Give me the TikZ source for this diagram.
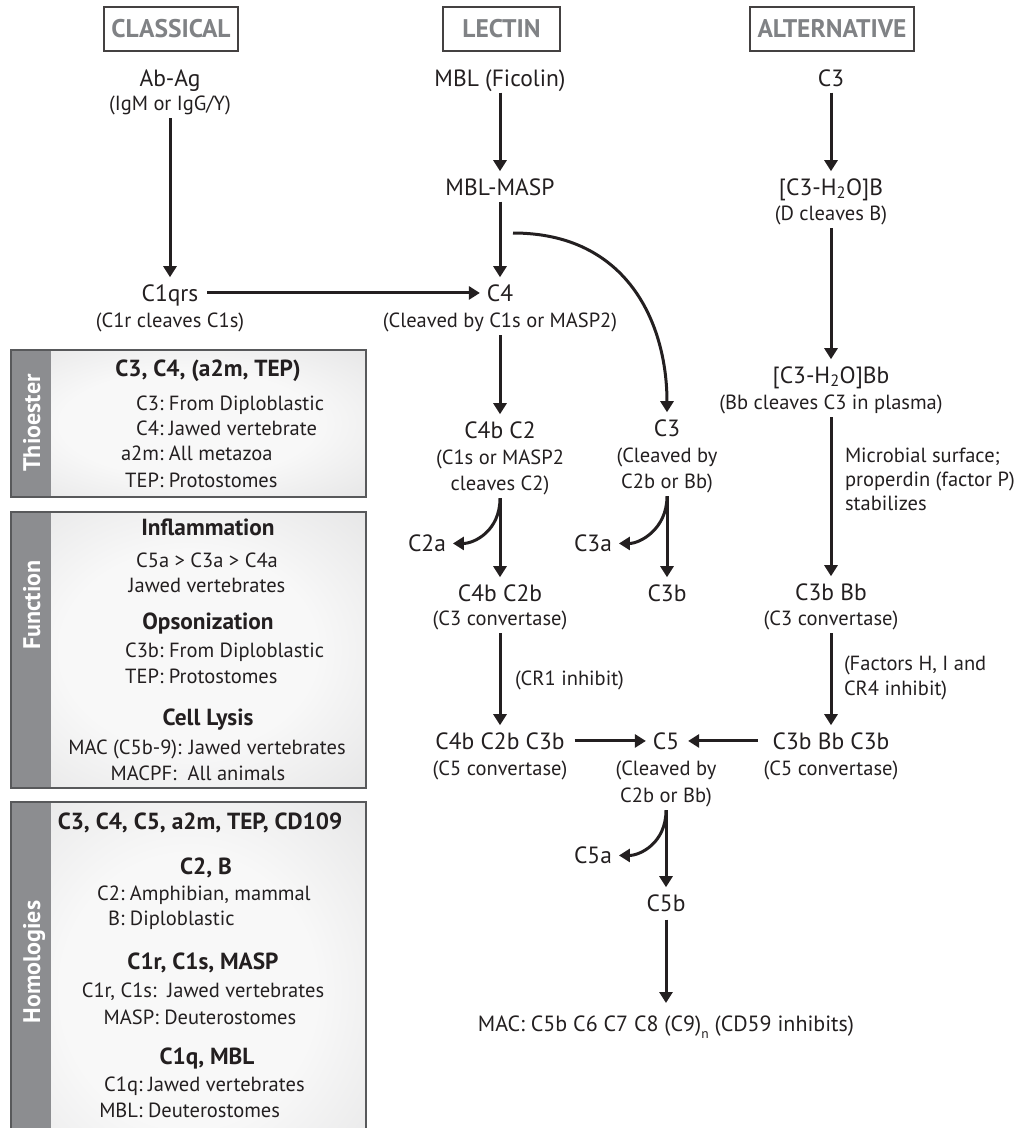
\documentclass[tikz,border=0pt]{standalone}
\usepackage{fontspec}
\setmainfont{PT Sans}
\usetikzlibrary{arrows.meta}
\definecolor{ink}{HTML}{231F20}
\definecolor{hdrgray}{HTML}{808285}
\definecolor{stripc}{HTML}{8C8D90}
\definecolor{pborder}{HTML}{58595B}
\definecolor{plight}{HTML}{F8F8F8}
\definecolor{pdark}{HTML}{D8D8D9}
\pgfdeclareradialshading{panelshade}{\pgfpoint{0bp}{0bp}}{color(0bp)=(plight); color(18bp)=(plight); color(50bp)=(pdark); color(72bp)=(pdark)}
\begin{document}
\begin{tikzpicture}[x=1pt,y=-1pt,
  every node/.style={inner sep=0pt,outer sep=0pt,text=ink},
  mainlab/.style={font=\fontsize{23.5}{27}\selectfont,anchor=base,text height=17pt,text depth=5.5pt},
  sublab/.style={font=\fontsize{20.5}{24}\selectfont,anchor=base,text height=15pt,text depth=5pt},
  sidenote/.style={font=\fontsize{20.5}{24}\selectfont,anchor=base west},
  hdr/.style={draw=ink!85,line width=1.3pt,font=\bfseries\fontsize{25.5}{28}\selectfont,text=hdrgray,minimum height=44pt},
  phead/.style={font=\bfseries\fontsize{23.3}{26}\selectfont,anchor=base},
  ptxt/.style={font=\fontsize{20.5}{24}\selectfont,anchor=base},
  ptxtw/.style={font=\fontsize{20.5}{24}\selectfont,anchor=base west},
  side/.style={font=\bfseries\fontsize{24}{28}\selectfont,text=white,rotate=90,anchor=base},
  arr/.style={draw=ink,line width=3pt,-{Triangle[width=13pt,length=11pt]},shorten <=3pt,shorten >=7pt}
]
\useasboundingbox (0,0) rectangle (1022,1128);

% ---------- headers
\node[hdr,minimum width=134pt] (hdrC) at (171,29) {CLASSICAL};
\node[hdr,minimum width=117pt] (hdrL) at (501.5,29) {LECTIN};
\node[hdr,minimum width=164pt] (hdrA) at (832,29) {ALTERNATIVE};

% ---------- classical
\node[mainlab] (abag) at (170,86.2) {Ab-Ag};
\node[sublab] (abags) at (170,110.2) {(IgM or IgG/Y)};
\node[mainlab] (c1qrs) at (170,301.2) {C1qrs};
\node[sublab] (c1qrss) at (170,327.2) {(C1r cleaves C1s)};

% ---------- lectin
\node[mainlab] (mbl) at (500,86.2) {MBL (Ficolin)};
\node[mainlab] (mblmasp) at (500,195.2) {MBL-MASP};
\node[mainlab] (c4) at (500,301.2) {C4};
\node[sublab] (c4s) at (500,327.2) {(Cleaved by C1s or MASP2)};
\node[mainlab] (c4b2) at (500,438.2) {C4b C2};
\node[sublab] (c4b2sa) at (500,464.2) {(C1s or MASP2};
\node[sublab] (c4b2sb) at (500,490.2) {cleaves C2)};
\node[mainlab] (c2a) at (427,551.2) {C2a};
\node[mainlab] (c4b2b) at (500,601.2) {C4b C2b};
\node[sublab] (c4b2bs) at (500,625.2) {(C3 convertase)};
\node[sidenote] (cr1) at (515,685.2) {(CR1 inhibit)};
\node[mainlab] (c4b2b3b) at (500,749.2) {C4b C2b C3b};
\node[sublab] (c4b2b3bs) at (500,775.2) {(C5 convertase)};

\node[mainlab] (c3l) at (667,436.2) {C3};
\node[sublab] (c3lsa) at (667,462.2) {(Cleaved by};
\node[sublab] (c3lsb) at (667,488.2) {C2b or Bb)};
\node[mainlab] (c3a) at (593,551.2) {C3a};
\node[mainlab] (c3b) at (667,601.2) {C3b};

% ---------- alternative
\node[mainlab] (c3alt) at (831,86.2) {C3};
\node[mainlab] (c3h2ob) at (831,195.2) {[C3-H\textsubscript{2}O]B};
\node[sublab] (c3h2obs) at (831,220.2) {(D cleaves B)};
\node[mainlab] (c3h2obb) at (831,383.2) {[C3-H\textsubscript{2}O]Bb};
\node[sublab] (c3h2obbs) at (831,409.2) {(Bb cleaves C3 in plasma)};
\node[sidenote] (micro1) at (845,462.2) {Microbial surface;};
\node[sidenote] (micro2) at (845,486.2) {properdin (factor P)};
\node[sidenote] (micro3) at (845,510.2) {stabilizes};
\node[mainlab] (c3bbb) at (831,600.2) {C3b Bb};
\node[sublab] (c3bbbs) at (831,625.2) {(C3 convertase)};
\node[sidenote] (fac1) at (844,670.2) {(Factors H, I and};
\node[sidenote] (fac2) at (844,695.2) {CR4 inhibit)};
\node[mainlab] (c3bbbc3b) at (831,749.2) {C3b Bb C3b};
\node[sublab] (c3bbbc3bs) at (831,775.2) {(C5 convertase)};

% ---------- terminal
\node[mainlab] (c5) at (666,749.2) {C5};
\node[sublab] (c5sa) at (666,775.2) {(Cleaved by};
\node[sublab] (c5sb) at (666,802.2) {C2b or Bb)};
\node[mainlab] (c5a) at (593,863.2) {C5a};
\node[mainlab] (c5b) at (666,911.2) {C5b};
\node[mainlab,font=\fontsize{22}{26}\selectfont] (mac) at (666,1031) {MAC: C5b C6 C7 C8 (C9)\raisebox{-7pt}{\fontsize{13.5}{14}\selectfont n} (CD59 inhibits)};

% ---------- arrows
\draw[arr] (abags.south) -- (c1qrs.north);
\draw[arr,shorten <=9pt,shorten >=7pt] ([yshift=2.5pt]c1qrs.east) -- ([yshift=2.5pt]c4.west);
\draw[arr,shorten <=1pt] (mbl.south) -- (mblmasp.north);
\draw[arr,shorten <=1pt] (mblmasp.south) -- (c4.north);
\coordinate (cs) at (513,233);
\draw[arr,shorten <=0pt] (cs) .. controls +(115,0) and +(0,-95) .. (c3l.north);
\draw[arr] (c4s.south) -- (c4b2.north);
\draw[arr] (c4b2sb.south) -- (c4b2b.north);
\draw[arr] (c4b2sb.south) .. controls +(0,36) and +(28,0) .. ([yshift=2pt]c2a.east);
\draw[arr] (c4b2bs.south) -- (c4b2b3b.north);
\draw[arr,shorten <=10pt,shorten >=7pt] ([yshift=2.5pt]c4b2b3b.east) -- ([yshift=2.5pt]c5.west);
\draw[arr,shorten <=15pt,shorten >=9pt] ([yshift=2.5pt]c3bbbc3b.west) -- ([yshift=2.5pt]c5.east);
\draw[arr] (c3lsb.south) -- (c3b.north);
\draw[arr] (c3lsb.south) .. controls +(0,36) and +(28,0) .. ([yshift=2pt]c3a.east);
\draw[arr,shorten <=1pt] (c3alt.south) -- (c3h2ob.north);
\draw[arr] (c3h2obs.south) -- (c3h2obb.north);
\draw[arr] (c3h2obbs.south) -- (c3bbb.north);
\draw[arr] (c3bbbs.south) -- (c3bbbc3b.north);
\draw[arr] (c5sb.south) -- (c5b.north);
\draw[arr] (c5sb.south) .. controls +(0,36) and +(28,0) .. ([yshift=2pt]c5a.east);
\draw[arr,shorten >=11pt] (c5b.south) -- (mac.north);

% ---------- panel 1: thioester
\path[shading=panelshade] (11,350) rectangle (366,497);
\fill[stripc] (11,350) rectangle (51,497);
\draw[pborder,line width=1.5pt] (11,350) rectangle (366,497);
\node[side] (sThio) at (40,423) {Thioester};
\node[phead] (hThio) at (208,376.9) {C3, C4, (a2m, TEP)};
\node[ptxtw] (t1) at (169,410.2) {\llap{C3:\ }From Diploblastic};
\node[ptxtw] (t2) at (169,435.2) {\llap{C4:\ }Jawed vertebrate};
\node[ptxtw] (t3) at (169,460.2) {\llap{a2m:\ }All metazoa};
\node[ptxtw] (t4) at (169,487.2) {\llap{TEP:\ }Protostomes};

% ---------- panel 2: function
\path[shading=panelshade] (11,512) rectangle (366,788);
\fill[stripc] (11,512) rectangle (51,788);
\draw[pborder,line width=1.5pt] (11,512) rectangle (366,788);
\node[side] (sFunc) at (40,605) {Function};
\node[phead] (hInf) at (208,535.9) {Inflammation};
\node[ptxt] (f1) at (207,567.2) {C5a > C3a > C4a};
\node[ptxt] (f2) at (207,592.2) {Jawed vertebrates};
\node[phead] (hOps) at (208,629.9) {Opsonization};
\node[ptxtw] (f3) at (169,657.2) {\llap{C3b:\ }From Diploblastic};
\node[ptxtw] (f4) at (169,683.2) {\llap{TEP:\ }Protostomes};
\node[phead] (hLys) at (208,725.9) {Cell Lysis};
\node[ptxt] (f5) at (207,754.2) {MAC (C5b-9): Jawed vertebrates};
\node[ptxt] (f6) at (198,780.2) {MACPF:\ \ All animals};

% ---------- panel 3: homologies
\path[shading=panelshade] (11,802) rectangle (366,1180);
\fill[stripc] (11,802) rectangle (51,1180);
\draw[pborder,line width=1.5pt] (11,1180) -- (11,802) -- (366,802) -- (366,1180);
\node[side] (sHom) at (40,962) {Homologies};
\node[phead] (hH1) at (200,829.9) {C3, C4, C5, a2m, TEP, CD109};
\node[phead] (hH2) at (206,874.9) {C2, B};
\node[ptxtw] (h1) at (130,900.2) {\llap{C2:\ }Amphibian, mammal};
\node[ptxtw] (h2) at (130,925.2) {\llap{B:\ }Diploblastic};
\node[phead] (hH3) at (203,969.9) {C1r, C1s, MASP};
\node[ptxt] (h3) at (203,997.2) {C1r, C1s:\ \ Jawed vertebrates};
\node[ptxt] (h4) at (200,1024.2) {MASP: Deuterostomes};
\node[phead] (hH4) at (207,1064.9) {C1q, MBL};
\node[ptxtw] (h5) at (148,1091.2) {\llap{C1q:\ }Jawed vertebrates};
\node[ptxtw] (h6) at (148,1117.2) {\llap{MBL:\ }Deuterostomes};
\end{tikzpicture}
\end{document}
